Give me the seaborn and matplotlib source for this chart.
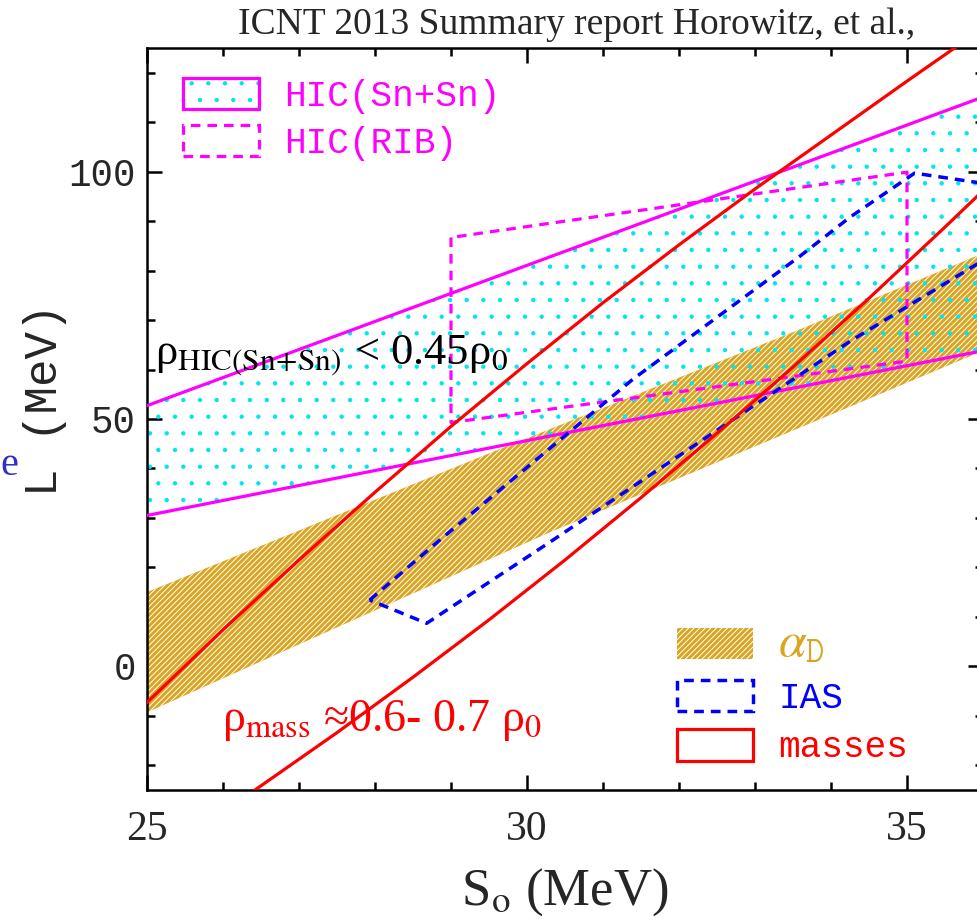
import numpy as np
import pandas as pd
import seaborn as sns
import matplotlib
matplotlib.use("Agg")
import matplotlib.pyplot as plt
from matplotlib.patches import Patch
from matplotlib.ticker import MultipleLocator

# ---------------- data ----------------
# HIC(Sn+Sn) band: two straight boundary lines
hic_x = [25.0, 36.0]
hic_upper = [52.7, 115.1]
hic_lower = [30.5, 63.8]

# alpha_D band
alphad_up_x = [25.0, 29.64, 33.59, 36.0]
alphad_up_y = [15.0, 43.9, 68.1, 83.5]
alphad_lo_x = [25.0, 30.3, 34.25, 36.0]
alphad_lo_y = [-9.3, 27.1, 52.5, 63.8]

# masses: two curves
mass_left_x = [25.0, 26.0, 27.0, 28.0, 29.0, 30.0, 31.0, 32.0, 33.0, 34.0, 35.0, 35.7]
mass_left_y = [-7.3, 7.4, 21.5, 35.2, 48.5, 61.2, 73.5, 85.2, 96.5, 107.4, 118.3, 125.8]
mass_right_x = [26.3, 27.5, 28.5, 29.5, 30.5, 31.5, 32.5, 33.5, 34.5, 35.5, 36.2]
mass_right_y = [-26.3, -13.4, -2.2, 9.4, 21.5, 34.1, 47.1, 60.5, 74.4, 88.8, 99.1]

# IAS contour (dashed blue)
ias_x = [27.93, 28.85, 31.39, 33.59, 34.25, 35.1, 36.5, 36.5, 35.92, 34.25, 30.3, 28.68, 27.93]
ias_y = [13.4, 25.5, 58.0, 82.9, 90.8, 99.7, 96.5, 86.0, 81.3, 65.7, 25.1, 8.7, 13.4]

# HIC(RIB) contour (dashed magenta)
rib_x = [29.0, 29.0, 35.0, 35.0, 29.0]
rib_y = [86.7, 49.3, 61.7, 99.9, 86.7]

x_ticks = [25, 30, 35]
y_ticks = [0, 50, 100]

# ---------------- style ----------------
MAG = "#FF00FF"
CYAN = "#00E5EE"
GOLD = "#DAA520"
RED = "#FF0000"
BLUE = "#0000FF"

sns.set_theme(style="ticks")
plt.rcParams["font.family"] = ["Liberation Mono", "DejaVu Sans"]
plt.rcParams["mathtext.fontset"] = "stix"
plt.rcParams["hatch.linewidth"] = 0.7
plt.rcParams["axes.linewidth"] = 1.8

SERIF = ["Liberation Serif", "DejaVu Serif"]

fig = plt.figure(figsize=(9.77, 9.24), dpi=100)
ax = fig.add_axes([147 / 977, 1 - 790 / 924, 836 / 977, 742 / 924])
ax.set_xlim(25, 36)
ax.set_ylim(-25, 125)

# alpha_D band
ad_px = alphad_up_x + alphad_lo_x[::-1]
ad_py = alphad_up_y + alphad_lo_y[::-1]
ax.fill(ad_px, ad_py, facecolor=GOLD, edgecolor="none", lw=0, zorder=1)
ax.fill(ad_px, ad_py, facecolor="none", edgecolor="white", hatch="//////", lw=0, zorder=1.1)

# HIC(Sn+Sn) band (cyan dots)
hp_x = hic_x + hic_x[::-1]
hp_y = hic_upper + hic_lower[::-1]
ax.fill(hp_x, hp_y, facecolor="none", edgecolor=CYAN, hatch=".", lw=0, zorder=2)
for yy in (hic_upper, hic_lower):
    sns.lineplot(x=hic_x, y=yy, ax=ax, color=MAG, lw=2.3, sort=False, estimator=None, zorder=3)

# RIB dashed
ax.plot(rib_x, rib_y, color=MAG, lw=2.3, dashes=(3.0, 2.2), zorder=3)
# IAS dashed
ax.plot(ias_x, ias_y, color=BLUE, lw=2.5, dashes=(2.8, 2.0), zorder=4)

# masses
sns.lineplot(x=mass_left_x, y=mass_left_y, ax=ax, color=RED, lw=2.3, sort=False, estimator=None, zorder=5)
sns.lineplot(x=mass_right_x, y=mass_right_y, ax=ax, color=RED, lw=2.3, sort=False, estimator=None, zorder=5)

# ---------------- annotations ----------------
ax.text(25.1, 61.0, "ρ$_{\\mathrm{HIC(Sn\\!+\\!Sn)}}$ < 0.45ρ$_0$", fontsize=32, color="black",
        family=SERIF, va="baseline", ha="left", zorder=6)
ax.text(25.99, -13.1, "ρ$_{\\mathrm{mass}}$ ≈0.6- 0.7 ρ$_0$", fontsize=33, color=RED,
        family=SERIF, va="baseline", ha="left", zorder=6)

# ---------------- axes ----------------
for s in ax.spines.values():
    s.set_visible(True)
    s.set_color("black")
    s.set_linewidth(1.8)
ax.set_xticks(x_ticks)
ax.set_yticks(y_ticks)
ax.xaxis.set_minor_locator(MultipleLocator(1))
ax.yaxis.set_minor_locator(MultipleLocator(10))
ax.tick_params(which="both", direction="in", top=True, right=True, color="black", width=1.8)
ax.tick_params(which="major", length=11)
ax.tick_params(which="minor", length=5.5)
ax.tick_params(axis="x", which="major", pad=15, labelsize=30)
ax.tick_params(axis="y", which="major", pad=8, labelsize=27)
for lab in ax.get_xticklabels():
    lab.set_family(SERIF)
ax.grid(False)

ax.set_ylabel("L (MeV)", fontsize=33, family="Liberation Mono", va="center")
ax.yaxis.set_label_coords(-0.122, 0.526)
ax.set_xlabel("S$_{\\mathrm{o}}$ (MeV)", fontsize=38, family=SERIF, va="baseline")
ax.xaxis.set_label_coords(0.5, -0.155)

fig.text(577 / 977, 1 - 25 / 924, "ICNT 2013 Summary report Horowitz, et al.,",
         family=SERIF, fontsize=27, ha="center", va="center")
fig.text(0 / 977, 1 - 466 / 924, "e", family=SERIF, fontsize=29,
         color="#3030C8", ha="left", va="center")

# ---------------- legends ----------------
h_sn = (Patch(facecolor="white", edgecolor=CYAN, hatch=".", lw=0),
        Patch(facecolor="none", edgecolor=MAG, lw=2.3))
h_rib = Patch(facecolor="none", edgecolor=MAG, lw=2.3, linestyle=(0, (3.0, 2.2)))
leg1 = ax.legend([h_sn, h_rib], ["HIC(Sn+Sn)", "HIC(RIB)"], loc="upper left",
                 bbox_to_anchor=(183 / 977, 1 - 78 / 924), bbox_transform=fig.transFigure,
                 frameon=False, prop={"family": "Liberation Mono", "size": 26},
                 handlelength=2.1, handleheight=0.95, handletextpad=0.7, labelspacing=0.3,
                 borderpad=0, borderaxespad=0, labelcolor=[MAG, MAG])
ax.add_artist(leg1)

h_ad = (Patch(facecolor=GOLD, edgecolor="none", lw=0),
        Patch(facecolor="none", edgecolor="white", hatch="//////", lw=0))
h_ias = Patch(facecolor="none", edgecolor=BLUE, lw=2.5, linestyle=(0, (2.8, 2.0)))
h_mass = Patch(facecolor="none", edgecolor=RED, lw=2.3)
leg2 = ax.legend([h_ad, h_ias, h_mass], ["$\\alpha_{\\mathtt{D}}$", "IAS", "masses"], loc="upper left",
                 bbox_to_anchor=(677 / 977, 1 - 620 / 924), bbox_transform=fig.transFigure,
                 frameon=False, prop={"family": "Liberation Mono", "size": 26},
                 handlelength=2.1, handleheight=0.95, handletextpad=0.7, labelspacing=0.38,
                 borderpad=0, borderaxespad=0, labelcolor=[GOLD, BLUE, RED])
leg2.get_texts()[0].set_fontsize(36)

fig.savefig("out.png", dpi=100)
